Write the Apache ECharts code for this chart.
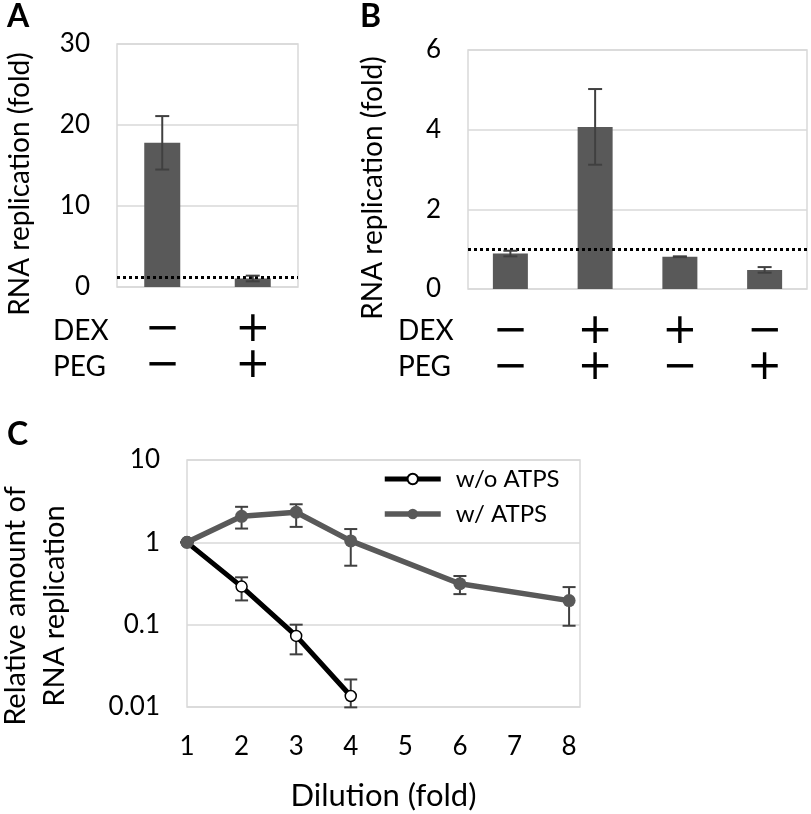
<!DOCTYPE html>
<html>
<head>
<meta charset="utf-8">
<script src="https://cdn.jsdelivr.net/npm/echarts@6.0.0/dist/echarts.min.js"></script>
<style>
  html, body { margin: 0; padding: 0; background: #fff; }
  #main { width: 811px; height: 814px; }
</style>
</head>
<body>
<div id="main"></div>
<script>
// panel A
var dexA = ['−', '+'];
var pegA = ['−', '+'];
var foldA = [17.8, 1.05];
var errA = [3.3, 0.35];
var ticksA = [0, 10, 20, 30];

// panel B
var dexB = ['−', '+', '+', '−'];
var pegB = ['−', '+', '−', '+'];
var foldB = [0.89, 4.07, 0.81, 0.48];
var errB = [0.07, 0.95, 0.01, 0.07];
var ticksB = [0, 2, 4, 6];

// panel C
var dilutionTicks = [1, 2, 3, 4, 5, 6, 7, 8];
var woX = [1, 2, 3, 4];
var woY = [1, 0.29, 0.073, 0.0136];
var woLo = [1, 0.197, 0.0436, 0.0099];
var woHi = [1, 0.376, 0.10, 0.0216];
var wX = [1, 2, 3, 4, 6, 8];
var wY = [1, 2.07, 2.32, 1.04, 0.314, 0.196];
var wLo = [1, 1.47, 1.54, 0.52, 0.235, 0.097];
var wHi = [1, 2.7, 2.9, 1.45, 0.39, 0.286];

var FONT = 'Lato';
var BAR = '#595959';
var GRIDC = '#d9d9d9';

var chart = echarts.init(document.getElementById('main'));

function errBars(capHalf) {
  return function (params, api) {
    var x = api.value(0);
    var lo = api.coord([x, api.value(1)]);
    var hi = api.coord([x, api.value(2)]);
    var st = { stroke: '#404040', lineWidth: 2 };
    return {
      type: 'group',
      children: [
        { type: 'line', shape: { x1: lo[0], y1: lo[1], x2: hi[0], y2: hi[1] }, style: st },
        { type: 'line', shape: { x1: hi[0] - capHalf, y1: hi[1], x2: hi[0] + capHalf, y2: hi[1] }, style: st },
        { type: 'line', shape: { x1: lo[0] - capHalf, y1: lo[1], x2: lo[0] + capHalf, y2: lo[1] }, style: st }
      ]
    };
  };
}

function catLabels(dex, peg) {
  return dex.map(function (d, i) { return d + '\n' + peg[i]; });
}

function barYAxis(idx, ticks) {
  return {
    type: 'value', gridIndex: idx,
    min: ticks[0], max: ticks[ticks.length - 1], interval: ticks[1] - ticks[0],
    axisLine: { show: false }, axisTick: { show: false },
    axisLabel: { color: '#000', fontSize: 26, fontFamily: FONT, margin: 27 },
    splitLine: { lineStyle: { color: GRIDC, width: 1.5 } }
  };
}

function barXAxis(idx, dex, peg) {
  return {
    type: 'category', gridIndex: idx, data: catLabels(dex, peg),
    axisLine: { show: false }, axisTick: { show: false },
    axisLabel: { color: '#000', fontSize: 42, fontFamily: 'DejaVu Sans', lineHeight: 36, margin: 25, interval: 0 }
  };
}

var dotted = { type: [3, 3], color: '#000', width: 3 };

var option = {
  animation: false,
  grid: [
    { left: 117, top: 44, width: 181, height: 243, show: true, borderColor: GRIDC, borderWidth: 1.5 },
    { left: 468, top: 50, width: 339, height: 239, show: true, borderColor: GRIDC, borderWidth: 1.5 },
    { left: 187, top: 460, width: 393, height: 247, show: true, borderColor: GRIDC, borderWidth: 1.5 }
  ],
  xAxis: [
    barXAxis(0, dexA, pegA),
    barXAxis(1, dexB, pegB),
    {
      type: 'value', gridIndex: 2, min: dilutionTicks[0], max: 8.2, interval: 1,
      axisLine: { show: false }, axisTick: { show: false }, splitLine: { show: false },
      axisLabel: {
        color: '#000', fontSize: 26, fontFamily: FONT, margin: 27,
        formatter: function (v) { return dilutionTicks.indexOf(v) >= 0 ? String(v) : ''; }
      },
      name: 'Dilution (fold)', nameLocation: 'middle', nameGap: 73,
      nameTextStyle: { color: '#000', fontSize: 31, fontFamily: FONT }
    }
  ],
  yAxis: [
    barYAxis(0, ticksA),
    barYAxis(1, ticksB),
    {
      type: 'log', gridIndex: 2, logBase: 10, min: 0.01, max: 10,
      axisLine: { show: false }, axisTick: { show: false },
      axisLabel: { color: '#000', fontSize: 26, fontFamily: FONT, margin: 27 },
      splitLine: { lineStyle: { color: GRIDC, width: 1.5 } }
    }
  ],
  legend: {
    orient: 'vertical', left: 377, top: 462, itemWidth: 56, itemHeight: 13, itemGap: 11,
    formatter: '{t|{name}}',
    textStyle: {
      color: '#000', fontSize: 24, fontFamily: FONT,
      rich: { t: { color: '#000', fontSize: 24, fontFamily: FONT, padding: [0, 0, 0, 10] } }
    },
    data: [
      { name: 'w/o ATPS', lineStyle: { width: 5, color: '#000' } },
      { name: 'w/ ATPS', lineStyle: { width: 5.5, color: BAR } }
    ]
  },
  series: [
    {
      type: 'bar', xAxisIndex: 0, yAxisIndex: 0, data: foldA, barWidth: 36,
      itemStyle: { color: BAR },
      markLine: { silent: true, symbol: 'none', label: { show: false }, lineStyle: dotted, data: [{ yAxis: 1.15 }] }
    },
    {
      type: 'custom', xAxisIndex: 0, yAxisIndex: 0, z: 5,
      renderItem: errBars(7),
      data: foldA.map(function (v, i) { return [i, v - errA[i], v + errA[i]]; })
    },
    {
      type: 'bar', xAxisIndex: 1, yAxisIndex: 1, data: foldB, barWidth: 35,
      itemStyle: { color: BAR },
      markLine: { silent: true, symbol: 'none', label: { show: false }, lineStyle: dotted, data: [{ yAxis: 1 }] }
    },
    {
      type: 'custom', xAxisIndex: 1, yAxisIndex: 1, z: 5,
      renderItem: errBars(7),
      data: foldB.map(function (v, i) { return [i, v - errB[i], v + errB[i]]; })
    },
    {
      type: 'custom', xAxisIndex: 2, yAxisIndex: 2, z: 1,
      renderItem: errBars(6.5),
      data: woX.map(function (x, i) { return [x, woLo[i], woHi[i]]; })
    },
    {
      type: 'custom', xAxisIndex: 2, yAxisIndex: 2, z: 1,
      renderItem: errBars(6.5),
      data: wX.map(function (x, i) { return [x, wLo[i], wHi[i]]; })
    },
    {
      name: 'w/o ATPS', type: 'line', xAxisIndex: 2, yAxisIndex: 2, z: 3,
      data: woX.map(function (x, i) { return [x, woY[i]]; }),
      lineStyle: { color: '#000', width: 5 },
      symbol: 'circle', symbolSize: 11,
      itemStyle: { color: '#fff', borderColor: '#000', borderWidth: 1.5 }
    },
    {
      name: 'w/ ATPS', type: 'line', xAxisIndex: 2, yAxisIndex: 2, z: 4,
      data: wX.map(function (x, i) { return [x, wY[i]]; }),
      lineStyle: { color: BAR, width: 5.5 },
      symbol: 'circle', symbolSize: 13,
      itemStyle: { color: BAR, borderWidth: 0 }
    }
  ],
  graphic: [
    { type: 'text', x: 7, y: 17, style: { text: 'A', fontSize: 32, fontWeight: 'bold', fontFamily: FONT, fill: '#000', textVerticalAlign: 'middle' } },
    { type: 'text', x: 360, y: 17, style: { text: 'B', fontSize: 32, fontWeight: 'bold', fontFamily: FONT, fill: '#000', textVerticalAlign: 'middle' } },
    { type: 'text', x: 7, y: 435, style: { text: 'C', fontSize: 32, fontWeight: 'bold', fontFamily: FONT, fill: '#000', textVerticalAlign: 'middle' } },
    { type: 'text', x: 20, y: 184, rotation: Math.PI / 2, style: { text: 'RNA replication (fold)', fontSize: 28, fontFamily: FONT, fill: '#000', textAlign: 'center', textVerticalAlign: 'middle' } },
    { type: 'text', x: 373, y: 188, rotation: Math.PI / 2, style: { text: 'RNA replication (fold)', fontSize: 28, fontFamily: FONT, fill: '#000', textAlign: 'center', textVerticalAlign: 'middle' } },
    { type: 'text', x: 16, y: 606, rotation: Math.PI / 2, style: { text: 'Relative amount of', fontSize: 29, fontFamily: FONT, fill: '#000', textAlign: 'center', textVerticalAlign: 'middle' } },
    { type: 'text', x: 55, y: 606, rotation: Math.PI / 2, style: { text: 'RNA replication', fontSize: 29, fontFamily: FONT, fill: '#000', textAlign: 'center', textVerticalAlign: 'middle' } },
    { type: 'text', x: 53, y: 331, style: { text: 'DEX', fontSize: 28, fontFamily: FONT, fill: '#000', textVerticalAlign: 'middle' } },
    { type: 'text', x: 53, y: 367, style: { text: 'PEG', fontSize: 28, fontFamily: FONT, fill: '#000', textVerticalAlign: 'middle' } },
    { type: 'text', x: 398, y: 331, style: { text: 'DEX', fontSize: 28, fontFamily: FONT, fill: '#000', textVerticalAlign: 'middle' } },
    { type: 'text', x: 398, y: 367, style: { text: 'PEG', fontSize: 28, fontFamily: FONT, fill: '#000', textVerticalAlign: 'middle' } }
  ]
};

chart.setOption(option);
</script>
</body>
</html>
